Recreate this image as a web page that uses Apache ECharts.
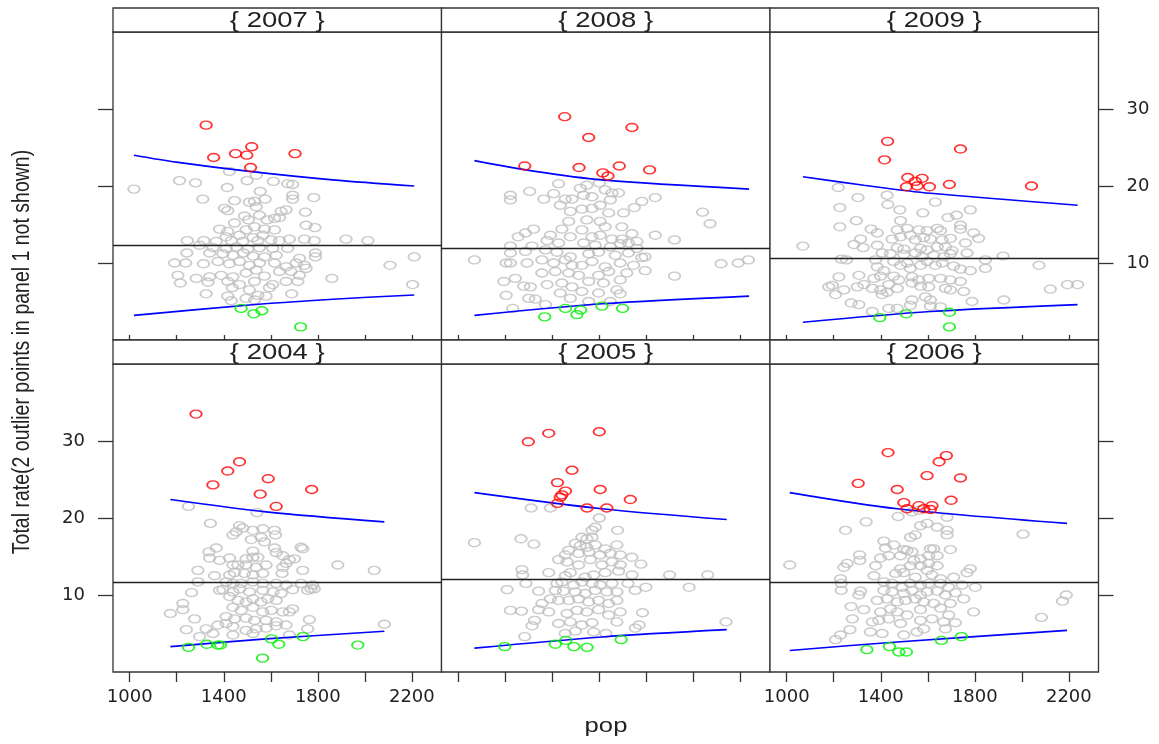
<!DOCTYPE html>
<html>
<head>
<meta charset="utf-8">
<script src="https://cdn.jsdelivr.net/npm/echarts@6/dist/echarts.min.js"></script>
<style>
  html, body { margin: 0; padding: 0; background: #fff; }
  #chart { width: 1159px; height: 744px; }
</style>
</head>
<body>
<div id="chart"></div>
<script>
// lattice order: top row 2007..2009, bottom row 2004..2006
const years = ['2007', '2008', '2009', '2004', '2005', '2006']
const xTicks = [1000, 1200, 1400, 1600, 1800, 2000, 2200]
const xTickLabels = [1000, 1400, 1800, 2200]
const yTicks = [10, 20, 30]
const medians = [12.26, 11.95, 10.61, 11.65, 12.0, 11.7]

const gray2007 = [[1018,19.6],[1212,20.7],[1280,20.4],[1424,21.9],[1499,20.7],[1538,21.4],[1611,20.6],[1672,20.3],[1693,20.2],[1415,19.8],[1555,19.3],[1693,18.8],[1693,18.3],[1783,18.5],[1311,18.3],[1446,18.1],[1509,17.9],[1531,18.0],[1576,18.3],[1403,17.1],[1417,16.8],[1538,17.3],[1665,16.9],[1644,16.7],[1747,16.6],[1488,16.1],[1552,16.2],[1616,15.8],[1446,15.2],[1505,15.6],[1584,15.6],[1637,15.9],[1750,14.9],[1788,14.6],[1382,14.4],[1417,14.1],[1495,14.3],[1531,14.7],[1573,14.4],[1616,14.3],[1410,13.4],[1467,13.6],[1524,13.3],[1566,13.6],[1245,12.9],[1315,12.9],[1368,12.8],[1432,12.9],[1481,12.8],[1545,12.9],[1601,13.0],[1637,12.9],[1679,13.1],[1743,13.1],[1785,12.9],[1920,13.1],[2013,12.9],[1297,12.3],[1354,12.0],[1410,11.9],[1453,12.1],[1502,11.8],[1552,12.0],[1608,11.9],[1672,11.9],[1243,11.3],[1340,11.3],[1396,11.2],[1439,11.0],[1484,11.3],[1524,10.9],[1573,10.8],[1623,11.0],[1722,10.6],[1790,11.3],[1790,10.8],[2210,10.8],[1191,10.0],[1238,10.0],[1314,9.9],[1375,10.2],[1424,9.9],[1467,10.2],[1509,9.7],[1552,10.0],[1616,10.0],[1665,9.5],[1708,10.0],[1743,9.7],[2107,9.7],[1205,8.4],[1283,8.0],[1340,8.2],[1389,8.4],[1439,8.2],[1495,8.7],[1538,9.1],[1573,8.3],[1637,8.9],[1686,8.9],[1722,8.4],[1750,9.3],[1860,8.0],[1215,7.4],[1333,7.5],[1417,7.6],[1467,7.2],[1531,7.6],[1608,7.2],[1665,7.6],[1715,7.6],[2203,7.2],[1436,6.8],[1509,6.5],[1594,6.8],[1325,6.0],[1417,5.7],[1545,5.8],[1580,5.7],[1689,6.0],[1531,5.2],[1495,5.4],[1432,5.1]]
const gray2008 = [[1069,10.4],[1222,18.8],[1222,18.2],[1304,19.3],[1364,18.3],[1427,20.3],[1406,19.0],[1455,18.3],[1484,18.3],[1519,19.7],[1547,20.1],[1533,18.8],[1569,18.6],[1600,20.4],[1625,19.5],[1654,19.1],[1682,19.1],[1647,18.2],[1781,18.0],[1838,18.5],[1434,17.5],[1526,17.0],[1569,17.1],[1604,17.5],[1477,16.7],[1640,16.5],[1703,16.5],[1749,17.2],[2039,16.6],[2071,15.1],[1470,15.4],[1547,15.6],[1604,15.4],[1441,14.4],[1526,14.3],[1625,14.7],[1696,14.7],[1286,13.9],[1321,14.4],[1255,13.4],[1392,13.6],[1477,13.4],[1569,13.4],[1604,13.6],[1654,13.1],[1696,13.1],[1739,13.8],[1760,12.8],[1838,13.6],[1920,13.0],[1222,12.2],[1314,12.2],[1378,12.9],[1427,12.6],[1533,12.6],[1583,12.3],[1647,12.1],[1689,12.5],[1724,12.6],[1760,11.9],[1222,11.3],[1286,11.5],[1371,11.7],[1420,11.4],[1477,10.8],[1555,11.2],[1597,11.4],[1668,11.0],[1724,11.3],[1781,10.7],[1795,10.8],[1204,10.0],[1222,10.0],[1293,10.0],[1356,10.4],[1406,10.0],[1455,10.4],[1484,9.7],[1526,9.7],[1569,10.2],[1625,9.5],[1689,10.0],[1746,9.7],[2118,9.9],[2191,10.0],[2234,10.4],[1356,8.7],[1413,8.9],[1470,8.7],[1512,8.4],[1597,8.4],[1640,8.9],[1717,8.7],[1795,9.0],[1920,8.3],[1194,7.6],[1243,8.0],[1279,7.0],[1307,6.9],[1378,7.2],[1441,7.4],[1484,6.9],[1555,7.6],[1618,7.4],[1689,7.8],[1434,6.1],[1526,6.3],[1597,6.1],[1675,6.5],[1689,6.0],[1204,5.8],[1300,5.4],[1328,5.3],[1477,5.4],[1555,5.0],[1232,4.1],[1371,4.6],[1647,5.0]]
const gray2009 = [[1069,12.2],[1219,19.8],[1303,18.5],[1226,17.2],[1427,18.8],[1430,17.6],[1481,16.9],[1579,16.5],[1632,17.9],[1722,16.2],[1686,15.9],[1781,16.9],[1296,15.5],[1226,14.7],[1484,15.5],[1512,14.5],[1470,14.3],[1359,14.4],[1385,13.9],[1562,14.3],[1597,14.2],[1640,14.5],[1654,14.2],[1739,14.9],[1739,14.4],[1795,13.9],[1816,13.2],[1314,13.1],[1286,12.4],[1325,12.0],[1448,13.1],[1484,13.4],[1526,13.6],[1547,13.0],[1583,13.3],[1611,13.1],[1661,13.0],[1696,13.2],[1760,12.6],[1385,12.3],[1470,12.0],[1498,11.8],[1569,11.9],[1597,11.7],[1640,12.1],[1675,12.1],[1703,11.6],[1767,11.3],[1406,11.3],[1441,11.2],[1498,11.1],[1547,11.3],[1576,10.8],[1625,11.0],[1668,10.8],[1696,11.2],[1920,10.9],[1845,10.4],[1233,10.5],[1254,10.4],[1378,10.4],[1455,10.2],[1484,9.7],[1512,10.0],[1526,9.3],[1569,9.7],[1597,10.2],[1632,9.7],[1661,10.0],[1710,9.6],[1739,9.2],[1781,9.0],[1845,9.3],[2073,9.7],[1385,9.5],[1413,9.0],[1307,8.4],[1222,8.2],[1371,8.0],[1399,8.3],[1455,8.3],[1477,7.8],[1533,8.2],[1562,7.8],[1604,8.0],[1654,8.0],[1696,7.8],[1739,7.6],[1194,7.1],[1179,6.9],[1243,6.5],[1300,6.9],[1328,7.2],[1364,6.7],[1399,6.5],[1434,7.2],[1470,6.7],[1533,7.4],[1569,7.0],[1604,6.9],[1675,6.7],[1696,6.5],[1753,6.3],[2121,6.6],[2194,7.2],[2237,7.2],[1208,5.9],[1406,5.9],[1427,6.2],[1533,5.2],[1590,5.6],[1611,5.2],[1788,5.0],[1923,5.2],[1274,4.8],[1307,4.6],[1434,4.1],[1470,4.1],[1526,4.5],[1611,4.4],[1654,4.3],[1364,3.7]]
const gray2004 = [[1250,21.5],[1541,20.7],[1343,19.3],[1467,19.0],[1481,18.7],[1524,18.4],[1566,18.6],[1439,17.8],[1453,18.2],[1616,18.4],[1620,17.8],[1517,17.2],[1559,17.5],[1573,16.9],[1368,16.1],[1337,15.6],[1616,16.1],[1623,15.5],[1729,16.2],[1736,16.0],[1524,15.7],[1545,14.9],[1340,14.8],[1382,14.5],[1425,14.8],[1495,14.7],[1524,14.9],[1651,15.1],[1679,14.6],[1701,14.7],[1439,13.9],[1460,13.9],[1495,13.9],[1538,13.6],[1580,13.9],[1651,13.6],[1665,14.1],[1885,13.9],[1290,13.2],[1361,12.5],[1425,12.6],[1446,12.9],[1488,12.8],[1524,12.6],[1566,12.8],[1648,12.8],[1736,13.2],[2040,13.2],[1290,11.7],[1410,11.7],[1439,11.5],[1474,11.5],[1524,11.7],[1566,11.5],[1623,11.5],[1665,11.3],[1729,11.5],[1778,11.3],[1785,10.8],[1382,10.6],[1396,10.7],[1439,10.4],[1467,10.8],[1510,10.4],[1566,10.6],[1609,10.4],[1644,10.2],[1693,10.7],[1757,10.6],[1771,10.8],[1263,10.3],[1425,9.8],[1460,9.3],[1495,9.1],[1524,9.5],[1559,9.1],[1587,9.5],[1623,9.3],[1226,8.9],[1226,8.1],[1173,7.6],[1439,8.4],[1474,8.0],[1524,8.4],[1566,7.8],[1602,8.0],[1651,7.8],[1679,7.8],[1693,8.2],[1276,6.9],[1410,7.2],[1446,6.9],[1495,7.0],[1531,6.7],[1580,6.7],[1623,6.5],[1764,6.8],[1241,5.5],[1325,5.6],[1375,6.1],[1410,6.3],[1439,5.9],[1495,5.4],[1538,5.6],[1580,5.7],[1623,6.0],[1665,6.1],[1757,5.6],[2083,6.2],[1297,4.6],[1354,5.0],[1439,4.8],[1524,5.0],[1679,4.8]]
const gray2005 = [[1310,21.3],[1392,21.3],[1600,20.0],[1583,18.8],[1569,18.4],[1678,18.4],[1526,17.5],[1547,17.3],[1569,17.5],[1069,16.8],[1267,17.3],[1322,16.6],[1498,16.7],[1519,16.4],[1547,16.2],[1583,16.5],[1625,16.0],[1675,16.5],[1470,15.8],[1455,15.2],[1512,15.4],[1555,15.6],[1604,15.2],[1647,15.4],[1689,15.2],[1739,14.9],[1427,14.6],[1463,14.3],[1512,13.9],[1562,14.6],[1611,13.9],[1654,14.3],[1689,13.9],[1777,14.0],[1271,13.3],[1274,12.6],[1385,12.9],[1477,12.9],[1456,12.5],[1540,12.3],[1576,12.6],[1625,12.9],[1682,13.1],[1739,12.6],[1899,12.6],[2061,12.6],[1288,11.5],[1420,11.5],[1441,11.7],[1491,11.3],[1526,11.7],[1569,11.5],[1604,11.3],[1654,11.5],[1722,11.5],[1208,10.7],[1342,10.5],[1413,10.6],[1448,10.5],[1498,10.4],[1540,10.2],[1583,10.6],[1632,10.4],[1675,10.4],[1753,10.6],[1798,11.0],[1982,11.0],[1392,9.5],[1427,9.3],[1470,9.3],[1512,9.5],[1555,9.1],[1597,9.3],[1640,8.9],[1675,9.3],[1356,8.9],[1222,8.0],[1269,7.9],[1342,8.1],[1385,7.8],[1463,7.6],[1505,8.0],[1547,7.8],[1597,8.1],[1640,7.4],[1689,7.8],[1784,7.7],[1325,6.7],[1314,6.0],[1427,6.3],[1477,6.5],[1526,6.1],[1569,6.4],[1675,6.5],[1753,5.7],[1770,6.1],[2139,6.5],[1283,4.6],[1455,5.0],[1498,5.3],[1576,5.2],[1628,5.0]]
const gray2006 = [[1013,13.9],[1250,18.4],[1338,19.5],[1474,20.2],[1533,20.8],[1562,21.0],[1682,20.1],[1569,19.0],[1597,19.3],[1640,18.8],[1682,18.4],[1682,17.8],[1526,17.5],[1547,17.8],[2005,17.9],[1413,17.0],[1420,16.1],[1456,16.5],[1498,15.9],[1512,15.8],[1611,16.0],[1625,16.0],[1696,15.9],[1310,15.2],[1311,14.5],[1257,14.1],[1243,13.6],[1399,14.8],[1434,15.1],[1484,15.1],[1533,15.6],[1540,14.5],[1569,14.7],[1604,15.1],[1640,15.1],[1378,13.8],[1371,12.5],[1484,13.4],[1526,13.8],[1569,13.8],[1604,14.1],[1640,13.8],[1781,13.4],[1767,12.9],[1229,12.1],[1232,11.5],[1232,10.6],[1463,12.8],[1498,12.9],[1547,12.3],[1597,13.2],[1618,12.6],[1654,12.1],[1710,12.3],[1413,11.7],[1448,11.5],[1491,11.0],[1526,11.5],[1569,11.3],[1604,11.5],[1654,11.5],[1689,11.0],[1746,11.3],[1802,11.0],[1314,10.5],[1307,10.0],[1413,10.6],[1448,10.4],[1498,10.2],[1533,10.6],[1569,10.0],[1597,10.4],[1640,10.5],[1675,10.0],[1717,10.3],[1753,9.5],[1385,9.3],[1427,9.5],[1470,9.1],[1505,9.3],[1547,9.5],[1583,9.1],[1625,8.9],[1696,8.9],[2189,10.0],[2173,9.2],[1274,8.5],[1328,8.1],[1399,7.8],[1441,8.2],[1470,7.8],[1512,7.4],[1569,8.1],[1654,8.3],[1689,7.4],[1795,7.8],[1279,6.9],[1364,6.5],[1392,6.7],[1434,6.9],[1484,6.3],[1569,6.7],[1618,6.9],[1668,6.5],[1717,6.4],[2083,7.1],[1269,5.5],[1229,4.8],[1208,4.2],[1356,5.2],[1406,5.0],[1498,4.8],[1554,5.2],[1583,5.6],[1675,5.6]]

const red2007 = [[1325,27.9],[1357,23.7],[1450,24.2],[1498,24.0],[1519,25.1],[1514,22.4],[1703,24.2]]
const red2008 = [[1453,29.0],[1739,27.6],[1555,26.3],[1283,22.6],[1514,22.4],[1685,22.6],[1814,22.1],[1615,21.7],[1637,21.3]]
const red2009 = [[1429,25.8],[1739,24.8],[1416,23.4],[1515,21.1],[1576,21.0],[1547,20.6],[1509,19.9],[1555,20.0],[1607,19.9],[1692,20.2],[2041,20.0]]
const red2004 = [[1282,33.5],[1467,27.3],[1417,26.1],[1354,24.3],[1589,25.1],[1774,23.7],[1555,23.1],[1623,21.5]]
const red2005 = [[1298,29.9],[1385,31.0],[1600,31.2],[1484,26.2],[1422,24.6],[1456,23.5],[1441,23.0],[1434,22.7],[1604,23.7],[1732,22.4],[1422,21.9],[1548,21.3],[1632,21.3]]
const red2006 = [[1431,28.5],[1679,28.1],[1648,27.3],[1597,25.5],[1739,25.2],[1304,24.5],[1470,23.7],[1699,22.3],[1498,22.0],[1512,21.2],[1562,21.6],[1583,21.2],[1618,21.6],[1611,21.1]]

const green2007 = [[1474,4.1],[1528,3.4],[1562,3.8],[1727,1.7]]
const green2008 = [[1368,3.0],[1456,4.1],[1505,3.3],[1521,3.9],[1611,4.4],[1699,4.1]]
const green2009 = [[1396,2.9],[1508,3.4],[1692,3.6],[1692,1.7]]
const green2004 = [[1250,3.2],[1328,3.6],[1375,3.5],[1386,3.5],[1565,1.8],[1603,4.3],[1634,3.6],[1737,4.6],[1970,3.5]]
const green2005 = [[1198,3.3],[1413,3.6],[1458,4.1],[1492,3.3],[1548,3.2],[1693,4.2]]
const green2006 = [[1341,2.9],[1437,3.3],[1477,2.6],[1509,2.6],[1658,4.1],[1743,4.6]]

// upper and lower blue reference curves
const upper2007 = [[1018,24.0],[1198,23.1],[1509,21.9],[1863,20.8],[2210,20.0]]
const lower2007 = [[1018,3.2],[1509,4.55],[1863,5.3],[2210,5.85]]
const upper2008 = [[1069,23.3],[1328,21.9],[1611,20.8],[2237,19.6]]
const lower2008 = [[1069,3.2],[1611,4.7],[2237,5.7]]
const upper2009 = [[1069,21.2],[1328,20.1],[1611,19.05],[2237,17.5]]
const lower2009 = [[1069,2.3],[1611,3.7],[2237,4.6]]
const upper2004 = [[1173,22.4],[1580,20.8],[2083,19.5]]
const lower2004 = [[1173,3.3],[1580,4.3],[2083,5.3]]
const upper2005 = [[1069,23.3],[1611,21.2],[2142,19.8]]
const lower2005 = [[1069,3.1],[1611,4.55],[2142,5.5]]
const upper2006 = [[1013,23.3],[1470,21.2],[2192,19.3]]
const lower2006 = [[1013,2.8],[1470,3.9],[2192,5.4]]

const grayPts = [gray2007, gray2008, gray2009, gray2004, gray2005, gray2006]
const redPts = [red2007, red2008, red2009, red2004, red2005, red2006]
const greenPts = [green2007, green2008, green2009, green2004, green2005, green2006]
const upperLines = [upper2007, upper2008, upper2009, upper2004, upper2005, upper2006]
const lowerLines = [lower2007, lower2008, lower2009, lower2004, lower2005, lower2006]

const colLeft = [113, 441.5, 770]
const rowTop = [32, 364]
const panelW = 328.5
const panelH = 308
const stripH = 24
const frame = '#333'
const ink = '#222'

const chart = echarts.init(document.getElementById('chart'))

const grids = []
const xAxes = []
const yAxes = []
const series = []
const graphics = []

function circles(data, color) {
  return {
    symbol: 'circle',
    symbolSize: [11.5, 8],
    itemStyle: { color: 'rgba(0,0,0,0)', borderColor: color, borderWidth: 1.6 },
    data: data
  }
}

years.forEach((year, i) => {
  const row = i < 3 ? 0 : 1
  const col = i % 3
  grids.push({
    left: colLeft[col], top: rowTop[row], width: panelW, height: panelH,
    show: true, borderColor: frame, borderWidth: 1.3, backgroundColor: '#fff'
  })
  xAxes.push({
    gridIndex: i, type: 'value', min: 929, max: 2326,
    position: row === 0 ? 'top' : 'bottom',
    offset: row === 0 ? stripH : 0,
    axisLine: { show: false },
    splitLine: { show: false },
    axisTick: { show: true, customValues: xTicks, length: row === 0 ? 5 : 10, lineStyle: { color: frame, width: 1.3 } },
    axisLabel: {
      show: row === 1 && col !== 1, customValues: xTickLabels, margin: 16,
      formatter: v => String(v),
      fontFamily: 'DejaVu Sans', fontSize: 18, color: ink
    }
  })
  yAxes.push({
    gridIndex: i, type: 'value', min: 0, max: 40,
    position: col === 2 ? 'right' : 'left',
    axisLine: { show: false },
    splitLine: { show: false },
    axisTick: { show: col !== 1, customValues: yTicks, length: 15, lineStyle: { color: frame, width: 1.3 } },
    axisLabel: {
      show: (col === 0 && row === 1) || (col === 2 && row === 0), customValues: yTicks, margin: 28,
      fontFamily: 'DejaVu Sans', fontSize: 18, color: ink
    }
  })

  series.push(Object.assign({
    type: 'scatter', xAxisIndex: i, yAxisIndex: i, z: 2,
    markLine: {
      silent: true, symbol: 'none', animation: false,
      label: { show: false },
      lineStyle: { color: ink, width: 1.3, type: 'solid' },
      data: [{ yAxis: medians[i] }]
    }
  }, circles(grayPts[i], '#bebebe')))
  series.push({
    type: 'line', xAxisIndex: i, yAxisIndex: i, z: 3, data: upperLines[i],
    showSymbol: false, smooth: 0.3, lineStyle: { color: '#0000ff', width: 1.6 }
  })
  series.push({
    type: 'line', xAxisIndex: i, yAxisIndex: i, z: 3, data: lowerLines[i],
    showSymbol: false, smooth: 0.3, lineStyle: { color: '#0000ff', width: 1.6 }
  })
  series.push(Object.assign({ type: 'scatter', xAxisIndex: i, yAxisIndex: i, z: 4 }, circles(redPts[i], '#ff0000')))
  series.push(Object.assign({ type: 'scatter', xAxisIndex: i, yAxisIndex: i, z: 4 }, circles(greenPts[i], '#00ee00')))

  // strip above each panel
  graphics.push({
    type: 'rect', z: 10,
    shape: { x: colLeft[col], y: rowTop[row] - stripH, width: panelW, height: stripH },
    style: { fill: '#fff', stroke: frame, lineWidth: 1.3 }
  })
  graphics.push({
    type: 'text', z: 11,
    x: colLeft[col] + panelW / 2, y: rowTop[row] - stripH / 2 + 0.5, scaleX: 1.25,
    style: {
      text: '{ ' + year + ' }', fill: ink, align: 'center', verticalAlign: 'middle',
      fontFamily: 'Liberation Sans', fontSize: 22
    }
  })
})

graphics.push({
  type: 'text', x: 22, y: 352, rotation: Math.PI / 2, scaleY: 1.25,
  style: {
    text: 'Total rate(2 outlier points in panel 1 not shown)', fill: ink,
    align: 'center', verticalAlign: 'middle', fontFamily: 'Liberation Sans', fontSize: 19.5
  }
})
graphics.push({
  type: 'text', x: 606, y: 726, scaleX: 1.25,
  style: {
    text: 'pop', fill: ink, align: 'center', verticalAlign: 'middle',
    fontFamily: 'Liberation Sans', fontSize: 20.5
  }
})

chart.setOption({
  animation: false,
  backgroundColor: '#fff',
  grid: grids,
  xAxis: xAxes,
  yAxis: yAxes,
  series: series,
  graphic: graphics
})
</script>
</body>
</html>
